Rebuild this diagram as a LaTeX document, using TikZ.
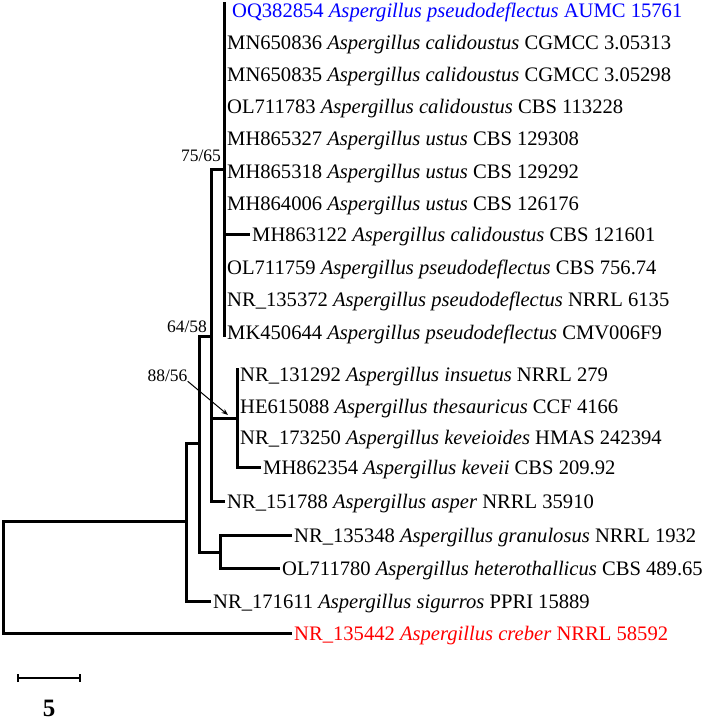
\documentclass[tikz,border=0pt]{standalone}
\usepackage{fontspec}
\setmainfont{Liberation Serif}
\usetikzlibrary{arrows.meta}
\begin{document}
\begin{tikzpicture}[x=1pt,y=-1pt,
  br/.style={line width=3pt, line join=miter},
  leaf/.style={anchor=west, inner xsep=2pt, inner ysep=0pt, text height=14pt, text depth=0pt, font=\fontsize{20.6}{25}\selectfont},
  boot/.style={inner sep=0pt, text height=12pt, text depth=0pt, font=\fontsize{17.5}{20}\selectfont},
]
\useasboundingbox (0,0) rectangle (708,720);
% leaves
\node[leaf,blue] (l1) at (230,10) {OQ382854 \textit{Aspergillus pseudodeflectus} AUMC 15761};
\node[leaf] (l2) at (225,42.2) {MN650836 \textit{Aspergillus calidoustus} CGMCC 3.05313};
\node[leaf] (l3) at (225,74.4) {MN650835 \textit{Aspergillus calidoustus} CGMCC 3.05298};
\node[leaf] (l4) at (225,106.6) {OL711783 \textit{Aspergillus calidoustus} CBS 113228};
\node[leaf] (l5) at (225,138.8) {MH865327 \textit{Aspergillus ustus} CBS 129308};
\node[leaf] (l6) at (225,171) {MH865318 \textit{Aspergillus ustus} CBS 129292};
\node[leaf] (l7) at (225,203.2) {MH864006 \textit{Aspergillus ustus} CBS 126176};
\node[leaf] (l8) at (250,234) {MH863122 \textit{Aspergillus calidoustus} CBS 121601};
\node[leaf] (l9) at (225,267.6) {OL711759 \textit{Aspergillus pseudodeflectus} CBS 756.74};
\node[leaf] (l10) at (225,299.8) {NR\_135372 \textit{Aspergillus pseudodeflectus} NRRL 6135};
\node[leaf] (l11) at (225,332) {MK450644 \textit{Aspergillus pseudodeflectus} CMV006F9};
\node[leaf] (l12) at (238,374) {NR\_131292 \textit{Aspergillus insuetus} NRRL 279};
\node[leaf] (l13) at (238,406) {HE615088 \textit{Aspergillus thesauricus} CCF 4166};
\node[leaf] (l14) at (238,437) {NR\_173250 \textit{Aspergillus keveioides} HMAS 242394};
\node[leaf] (l15) at (261,467) {MH862354 \textit{Aspergillus keveii} CBS 209.92};
\node[leaf] (l16) at (225,501) {NR\_151788 \textit{Aspergillus asper} NRRL 35910};
\node[leaf] (l17) at (292,535) {NR\_135348 \textit{Aspergillus granulosus} NRRL 1932};
\node[leaf] (l18) at (280,568) {OL711780 \textit{Aspergillus heterothallicus} CBS 489.65};
\node[leaf] (l19) at (211,601) {NR\_171611 \textit{Aspergillus sigurros} PPRI 15889};
\node[leaf,red] (l20) at (292,633) {NR\_135442 \textit{Aspergillus creber} NRRL 58592};
% internal nodes
\coordinate (root) at (3,577.5);
\coordinate (nC) at (186,521.5);
\coordinate (nB) at (199,443);
\coordinate (nA) at (211,336);
\coordinate (nG) at (220,552);
\coordinate (nK) at (237,418);
\coordinate (kTop) at (237,368);
\coordinate (mA) at (224,169.5);
\coordinate (mTop) at (224,2);
\coordinate (mBot) at (224,337);
% branches
\draw[br] (root) |- (nC);
\draw[br] (root) |- (l20.west);
\draw[br] (nC) |- (nB);
\draw[br] (nC) |- (l19.west);
\draw[br] (nB) |- (nA);
\draw[br] (nB) |- (nG);
\draw[br] (nA) |- (mA);
\draw[br] (nA) |- (nK);
\draw[br] (nA) |- (l16.west);
\draw[br] (nG) |- (l17.west);
\draw[br] (nG) |- (l18.west);
\draw[br] (mTop) -- (mBot);
\draw[br] (mA) |- (l8.west);
\draw[br] (kTop) -- (nK) |- (l15.west);
% bootstrap labels
\node[boot] (b75) at (201,155) {75/65};
\node[boot] (b64) at (187,326) {64/58};
\node[boot] (b88) at (167.5,375) {88/56};
\coordinate (atip) at (228,415);
\draw[line width=1pt, -{Stealth[length=6.5pt,width=5pt]}] (b88.south east) -- (atip);
% scale bar
\coordinate (sb1) at (17,678);
\coordinate (sb2) at (81,678);
\draw[line width=2pt, {Bar[width=8pt]}-{Bar[width=8pt]}] (sb1) -- (sb2);
\node[inner sep=0pt, font=\fontsize{25}{28}\selectfont\bfseries] (sb5) at (49,708) {5};
\end{tikzpicture}
\end{document}
